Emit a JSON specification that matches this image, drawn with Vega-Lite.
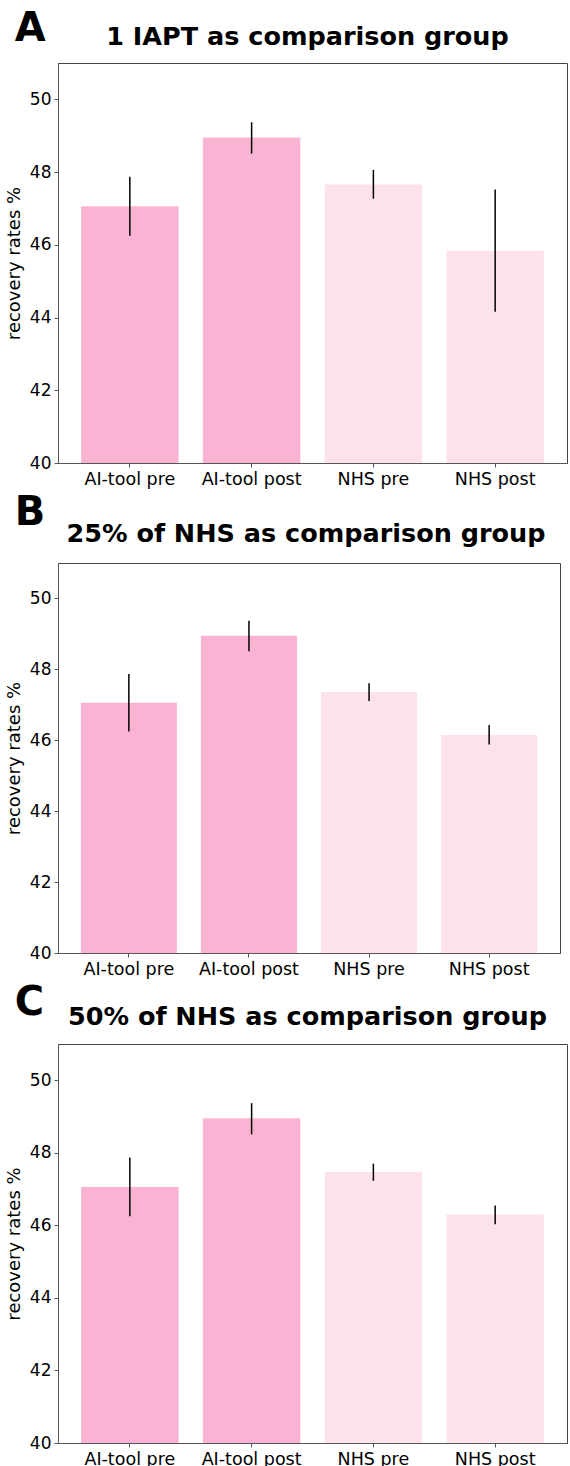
{
  "$schema": "https://vega.github.io/schema/vega-lite/v6.json",
  "padding": {"left": 4, "top": 9, "right": 0, "bottom": 0},
  "background": "white",
  "datasets": {
    "bars": [
      {"panel": "A", "group": "AI-tool pre", "kind": "AI-tool", "value": 47.06, "lo": 46.25, "hi": 47.87},
      {"panel": "A", "group": "AI-tool post", "kind": "AI-tool", "value": 48.95, "lo": 48.51, "hi": 49.37},
      {"panel": "A", "group": "NHS pre", "kind": "NHS", "value": 47.66, "lo": 47.27, "hi": 48.06},
      {"panel": "A", "group": "NHS post", "kind": "NHS", "value": 45.84, "lo": 44.16, "hi": 47.52},
      {"panel": "B", "group": "AI-tool pre", "kind": "AI-tool", "value": 47.06, "lo": 46.25, "hi": 47.87},
      {"panel": "B", "group": "AI-tool post", "kind": "AI-tool", "value": 48.95, "lo": 48.51, "hi": 49.37},
      {"panel": "B", "group": "NHS pre", "kind": "NHS", "value": 47.36, "lo": 47.11, "hi": 47.61},
      {"panel": "B", "group": "NHS post", "kind": "NHS", "value": 46.15, "lo": 45.88, "hi": 46.43},
      {"panel": "C", "group": "AI-tool pre", "kind": "AI-tool", "value": 47.06, "lo": 46.25, "hi": 47.87},
      {"panel": "C", "group": "AI-tool post", "kind": "AI-tool", "value": 48.95, "lo": 48.51, "hi": 49.37},
      {"panel": "C", "group": "NHS pre", "kind": "NHS", "value": 47.47, "lo": 47.23, "hi": 47.70},
      {"panel": "C", "group": "NHS post", "kind": "NHS", "value": 46.30, "lo": 46.03, "hi": 46.55}
    ]
  },
  "config": {
    "font": "DejaVu Sans",
    "view": {"stroke": "#444", "strokeWidth": 1},
    "title": {"font": "DejaVu Sans", "fontSize": 25.5, "fontWeight": "bold", "color": "black", "anchor": "middle"},
    "axis": {
      "labelFont": "DejaVu Sans",
      "titleFont": "DejaVu Sans",
      "labelColor": "black",
      "titleColor": "black",
      "domainColor": "#555",
      "tickColor": "#555",
      "tickSize": 4,
      "grid": false
    }
  },
  "spacing": 4,
  "vconcat": [
    {
      "title": {"text": "A", "anchor": "start", "frame": "bounds", "fontSize": 40, "fontWeight": "bold", "offset": -25, "dx": 10, "color": "black"},
      "vconcat": [
        {
          "width": 509,
          "height": 400,
          "title": {"text": "1 IAPT as comparison group", "offset": 13, "dx": -5},
          "data": {"name": "bars"},
          "transform": [{"filter": "datum.panel === 'A'"}],
          "encoding": {
            "x": {"field": "group", "type": "nominal", "sort": ["AI-tool pre", "AI-tool post", "NHS pre", "NHS post"],
                  "scale": {"paddingInner": 0.2, "paddingOuter": 0.19},
                  "axis": {"title": null, "labelAngle": 0, "labelFontSize": 17.5, "labelPadding": 3}}
          },
          "layer": [
            {
              "mark": {"type": "bar"},
              "encoding": {
                "y": {"field": "value", "type": "quantitative", "scale": {"domain": [40, 51], "nice": false, "zero": false},
                      "axis": {"title": "recovery rates %", "titleFontSize": 18, "titleFontWeight": "normal", "labelFontSize": 17, "labelPadding": 3, "titlePadding": 6, "values": [40, 42, 44, 46, 48, 50]}},
                "y2": {"datum": 40},
                "color": {"field": "kind", "type": "nominal", "scale": {"domain": ["AI-tool", "NHS"], "range": ["#FAB3D2", "#FDE2EC"]}, "legend": null}
              }
            },
            {
              "mark": {"type": "rule", "color": "black", "strokeWidth": 1.5},
              "encoding": {"y": {"field": "lo", "type": "quantitative"}, "y2": {"field": "hi"}}
            }
          ]
        }
      ]
    },
    {
      "title": {"text": "B", "anchor": "start", "frame": "bounds", "fontSize": 40, "fontWeight": "bold", "offset": -11, "dx": 10, "color": "black"},
      "vconcat": [
        {
          "width": 502,
          "height": 390,
          "title": {"text": "25% of NHS as comparison group", "offset": 15.5, "dx": -3},
          "data": {"name": "bars"},
          "transform": [{"filter": "datum.panel === 'B'"}],
          "encoding": {
            "x": {"field": "group", "type": "nominal", "sort": ["AI-tool pre", "AI-tool post", "NHS pre", "NHS post"],
                  "scale": {"paddingInner": 0.2, "paddingOuter": 0.19},
                  "axis": {"title": null, "labelAngle": 0, "labelFontSize": 17.5, "labelPadding": 3}}
          },
          "layer": [
            {
              "mark": {"type": "bar"},
              "encoding": {
                "y": {"field": "value", "type": "quantitative", "scale": {"domain": [40, 51], "nice": false, "zero": false},
                      "axis": {"title": "recovery rates %", "titleFontSize": 18, "titleFontWeight": "normal", "labelFontSize": 17, "labelPadding": 3, "titlePadding": 6, "values": [40, 42, 44, 46, 48, 50]}},
                "y2": {"datum": 40},
                "color": {"field": "kind", "type": "nominal", "scale": {"domain": ["AI-tool", "NHS"], "range": ["#FAB3D2", "#FDE2EC"]}, "legend": null}
              }
            },
            {
              "mark": {"type": "rule", "color": "black", "strokeWidth": 1.5},
              "encoding": {"y": {"field": "lo", "type": "quantitative"}, "y2": {"field": "hi"}}
            }
          ]
        }
      ]
    },
    {
      "title": {"text": "C", "anchor": "start", "frame": "bounds", "fontSize": 40, "fontWeight": "bold", "offset": -18, "dx": 10, "color": "black"},
      "vconcat": [
        {
          "width": 509,
          "height": 399,
          "title": {"text": "50% of NHS as comparison group", "offset": 13.5, "dx": -5},
          "data": {"name": "bars"},
          "transform": [{"filter": "datum.panel === 'C'"}],
          "encoding": {
            "x": {"field": "group", "type": "nominal", "sort": ["AI-tool pre", "AI-tool post", "NHS pre", "NHS post"],
                  "scale": {"paddingInner": 0.2, "paddingOuter": 0.19},
                  "axis": {"title": null, "labelAngle": 0, "labelFontSize": 17.5, "labelPadding": 3}}
          },
          "layer": [
            {
              "mark": {"type": "bar"},
              "encoding": {
                "y": {"field": "value", "type": "quantitative", "scale": {"domain": [40, 51], "nice": false, "zero": false},
                      "axis": {"title": "recovery rates %", "titleFontSize": 18, "titleFontWeight": "normal", "labelFontSize": 17, "labelPadding": 3, "titlePadding": 6, "values": [40, 42, 44, 46, 48, 50]}},
                "y2": {"datum": 40},
                "color": {"field": "kind", "type": "nominal", "scale": {"domain": ["AI-tool", "NHS"], "range": ["#FAB3D2", "#FDE2EC"]}, "legend": null}
              }
            },
            {
              "mark": {"type": "rule", "color": "black", "strokeWidth": 1.5},
              "encoding": {"y": {"field": "lo", "type": "quantitative"}, "y2": {"field": "hi"}}
            }
          ]
        }
      ]
    }
  ]
}
